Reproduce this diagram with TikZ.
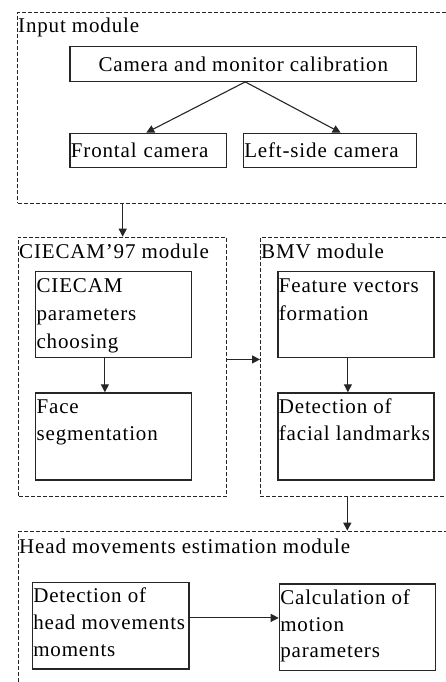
\documentclass[tikz,border=0pt]{standalone}
\usepackage{fontspec}
\setmainfont{Liberation Serif}[LetterSpace=4]
\usetikzlibrary{arrows.meta}
\newcommand\mlbox[4]{\parbox[t][#1pt][t]{#2pt}{\fontsize{21}{#3}\selectfont\rule{0pt}{20.5pt}#4}}
\tikzset{
  modframe/.style={draw=black!85, line width=0.9pt, dash pattern=on 4pt off 2pt, rectangle, inner sep=0pt, anchor=north west},
  procbox/.style={draw=black!85, line width=1.2pt, rectangle, inner xsep=1pt, inner ysep=0pt, anchor=north west},
  onebox/.style={draw=black!85, line width=1.2pt, rectangle, inner xsep=1pt, inner ysep=0pt, anchor=north west, align=left},
  arr/.style={draw=black!85, line width=1.1pt, -{Triangle[length=8pt,width=8pt]}},
  modtitle/.style={anchor=base west, inner sep=0pt}
}
\begin{document}
\begin{tikzpicture}[x=1pt, y=-1pt, font=\fontsize{21}{26.7}\selectfont]
\useasboundingbox[fill=white] (0,0) rectangle (446,682);
\clip (0,0) rectangle (446,682);

% Input module
\node[modframe, minimum width=442.7pt, minimum height=191pt] (inp) at (17.3,12) {};
\node[modtitle] (tinp) at (18,33) {Input module};
\node[draw=black!85, line width=1.2pt, rectangle, inner sep=0pt, anchor=north west,
      minimum width=346.7pt, minimum height=34.7pt] (cam) at (69.3,46) {Camera and monitor calibration};
\node[onebox, text width=154.7pt, minimum height=34pt] (fr) at (69.3,132.7) {Frontal camera};
\node[onebox, text width=171.3pt, minimum height=34pt] (ls) at (242.7,132.7) {Left-side camera};
\draw[arr] ([xshift=2pt]cam.south) coordinate (c0) -- ([xshift=-2pt]fr.north);
\draw[arr] (c0) -- ([xshift=10.7pt]ls.north);

% CIECAM'97 module
\node[modframe, minimum width=207.7pt, minimum height=259.3pt] (cie) at (18.3,236.7) {};
\node[modtitle] (tcie) at (19,258.3) {CIECAM’97 module};
\node[procbox] (cp) at (35,271) {\mlbox{85.7}{154}{28.3}{CIECAM\\parameters\\choosing}};
\node[procbox] (fs) at (35,392.3) {\mlbox{87}{154}{27}{Face\\segmentation}};
\draw[arr] ([xshift=-8.7pt]cp.south) -- ([xshift=-8.7pt]fs.north);

% BMV module
\node[modframe, minimum width=200pt, minimum height=259.3pt] (bmv) at (260,236.7) {};
\node[modtitle] (tbmv) at (261,258.3) {BMV module};
\node[procbox] (fv) at (277.3,271) {\mlbox{85.7}{154}{28.5}{Feature vectors\\formation}};
\node[procbox] (df) at (277.3,392.3) {\mlbox{87}{154}{26.7}{Detection of\\facial landmarks}};
\draw[arr] ([xshift=-8pt]fv.south) -- ([xshift=-8pt]df.north);

\draw[arr] ([yshift=7.35pt]cie.east) coordinate (b0) -- (b0 -| bmv.west);
\draw[arr] ([xshift=105.4pt]inp.south west) coordinate (a0) -- (a0 |- cie.north);

% Head movements estimation module
\node[modframe, minimum width=441.7pt, minimum height=200pt] (head) at (18.3,530.7) {};
\node[modtitle] (thead) at (19,553.3) {Head movements estimation module};
\draw[arr] ([xshift=87.3pt]bmv.south west) coordinate (d0) -- (d0 |- head.north);
\node[procbox] (dh) at (31.7,581.7) {\mlbox{86.6}{154.6}{26.7}{Detection of\\head movements\\moments}};
\node[procbox] (cm) at (278.7,583.3) {\mlbox{86.7}{154.3}{26.7}{Calculation of\\motion\\parameters}};
\draw[arr] ([yshift=7.7pt]dh.east) coordinate (e0) -- (e0 -| cm.west);
\end{tikzpicture}
\end{document}
